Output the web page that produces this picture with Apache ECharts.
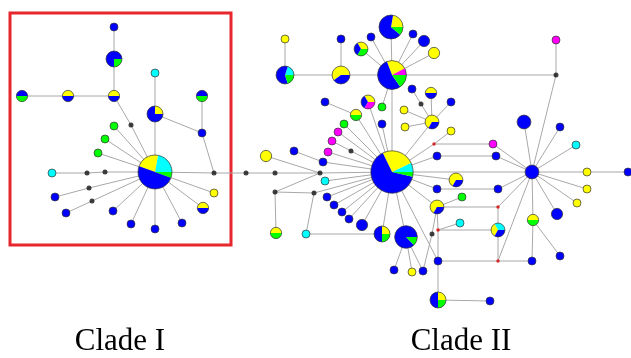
<!DOCTYPE html>
<html>
<head>
<meta charset="utf-8">
<script src="https://cdn.jsdelivr.net/npm/echarts@6/dist/echarts.min.js"></script>
<style>
  html, body { margin: 0; padding: 0; background: #fff; }
  #chart { width: 631px; height: 358px; }
</style>
</head>
<body>
<div id="chart"></div>
<script>
// population letters -> colours
const popColors = { B: '#0000ff', Y: '#ffff00', G: '#00ff00', C: '#00ffff', M: '#ff00ff' };

// haplotypes: [id, layoutX, layoutY, composition (population + sample count)]
const cladeOne = [
    ['c1', 155, 172, 'C4 Y4 B9 G1'],
    ['a1', 114, 27, 'B1'],
    ['a2', 114, 59, 'B3 G1'],
    ['a3', 114, 96, 'Y1 B1'],
    ['a4', 68, 96, 'Y1 B1'],
    ['a5', 22, 96, 'B1 G1'],
    ['a6', 155, 73, 'C1'],
    ['a7', 155, 114, 'Y1 B3'],
    ['a8', 202, 96, 'B1 G1'],
    ['a9', 202, 133, 'B1'],
    ['a10', 114, 126, 'G1'],
    ['a11', 105, 139, 'G1'],
    ['a12', 98, 153, 'G1'],
    ['a13', 52, 173, 'C1'],
    ['a14', 55, 197, 'B1'],
    ['a15', 66, 213, 'B1'],
    ['a16', 113, 211, 'B1'],
    ['a17', 131, 224, 'B1'],
    ['a18', 155, 229, 'B1'],
    ['a19', 182, 223, 'B1'],
    ['a20', 203, 208, 'Y1 B1'],
    ['a21', 214, 193, 'Y1'],
];

const cladeTwo = [
    ['c2', 392, 172, 'C2 Y7 B18 G1'],
    ['u', 392, 75, 'M1 Y3 B7 G2'],
    ['t', 391, 27, 'Y2 B6 G1'],
    ['b1', 285, 75, 'C1 B3 G1'],
    ['b2', 285, 39, 'Y1'],
    ['b3', 341, 75, 'Y3 B2'],
    ['b4', 341, 39, 'B1'],
    ['b5', 361, 49, 'Y1 B1 G1'],
    ['b6', 371, 37, 'B1'],
    ['b7', 413, 34, 'B1'],
    ['b8', 424, 41, 'B2'],
    ['b9', 434, 53, 'Y2'],
    ['b10', 382, 107, 'G1'],
    ['b11', 382, 124, 'B1'],
    ['b12', 404, 110, 'Y1'],
    ['b13', 325, 102, 'B1'],
    ['b14', 356, 115, 'Y1 G1'],
    ['b15', 368, 102, 'Y1 B1 M1'],
    ['b16', 344, 124, 'G1'],
    ['b17', 338, 132, 'M1'],
    ['b18', 332, 141, 'M1'],
    ['b19', 328, 152, 'M1'],
    ['b20', 294, 151, 'B1'],
    ['b21', 323, 162, 'B1'],
    ['b22', 266, 156, 'Y2'],
    ['b23', 325, 181, 'C1'],
    ['b24', 276, 233, 'Y1 G1'],
    ['b25', 306, 234, 'C1'],
    ['b26', 327, 197, 'B1'],
    ['b27', 334, 205, 'B1'],
    ['b28', 342, 212, 'B1'],
    ['b29', 349, 219, 'B1'],
    ['b30', 362, 225, 'B2'],
    ['b31', 382, 234, 'Y1 B2 G1'],
    ['b32', 406, 237, 'B7 G1'],
    ['b33', 394, 270, 'B1'],
    ['b34', 412, 272, 'Y1'],
    ['b35', 423, 271, 'B1'],
    ['b36', 437, 207, 'Y2 B1'],
    ['b37', 462, 197, 'G1'],
    ['b38', 460, 223, 'C1'],
    ['b39', 438, 261, 'B1'],
    ['b40', 438, 300, 'Y1 B2 G1'],
    ['b41', 490, 301, 'B1'],
    ['b42', 498, 230, 'C1 Y1 B1'],
    ['b43', 532, 261, 'B1'],
    ['b44', 533, 220, 'Y1 G1'],
    ['b45', 560, 256, 'B1'],
    ['h', 532, 172, 'B3'],
    ['b46', 524, 122, 'B3'],
    ['b47', 560, 127, 'B1'],
    ['b48', 576, 145, 'C1'],
    ['b49', 587, 172, 'Y1'],
    ['b50', 628, 172, 'B1'],
    ['b51', 587, 189, 'Y1'],
    ['b52', 577, 203, 'Y1'],
    ['b53', 557, 214, 'B2'],
    ['b54', 498, 189, 'B1'],
    ['b55', 437, 189, 'B1'],
    ['b56', 456, 180, 'Y2 B1'],
    ['b57', 437, 156, 'B1'],
    ['b58', 496, 156, 'B1'],
    ['b59', 493, 144, 'M1'],
    ['b60', 451, 131, 'Y1'],
    ['b61', 432, 122, 'Y2 B1'],
    ['b62', 405, 127, 'Y1'],
    ['b63', 431, 93, 'Y1 B1'],
    ['b64', 451, 102, 'B1'],
    ['b65', 412, 89, 'B1'],
    ['b66', 556, 40, 'M1'],
];

// inferred median vectors
const blackMedians = [
    ['m1', 131, 125], ['m2', 87, 173], ['m3', 105, 172], ['m4', 89, 188],
    ['m5', 92, 201], ['m6', 214, 173], ['m7', 246, 173], ['m8', 275, 173],
    ['m9', 320, 173], ['m10', 351, 151], ['m11', 275, 192], ['m12', 314, 193],
    ['m13', 432, 234], ['m14', 421, 104], ['m15', 556, 75],
];
const redMedians = [
    ['r1', 438, 230], ['r2', 498, 207], ['r3', 498, 261], ['r4', 434, 144],
];

const links = [
    // clade I
    ['c1', 'a10'], ['c1', 'a11'], ['c1', 'a12'], ['c1', 'm1'], ['m1', 'a3'],
    ['a3', 'a4'], ['a4', 'a5'], ['a3', 'a2'], ['a2', 'a1'], ['c1', 'a7'],
    ['a7', 'a6'], ['a7', 'a9'], ['a9', 'a8'], ['a9', 'm6'], ['c1', 'm6'],
    ['c1', 'm3'], ['m3', 'm2'], ['m2', 'a13'], ['c1', 'm4'], ['m4', 'a14'],
    ['c1', 'm5'], ['m5', 'a15'], ['c1', 'a16'], ['c1', 'a17'], ['c1', 'a18'],
    ['c1', 'a19'], ['c1', 'a20'], ['c1', 'a21'],
    // between clades
    ['m6', 'm7'], ['m7', 'm8'], ['m8', 'm9'], ['m9', 'c2'],
    // clade II
    ['m9', 'b22'], ['m9', 'm11'], ['m11', 'm12'], ['m11', 'b24'], ['m12', 'b25'],
    ['m12', 'c2'], ['b25', 'b31'], ['c2', 'b31'], ['c2', 'b32'], ['b32', 'b33'],
    ['b32', 'b34'], ['b32', 'b35'], ['b36', 'm13'], ['m13', 'b35'], ['c2', 'b36'],
    ['b36', 'b37'], ['b36', 'r1'], ['r1', 'b38'], ['r1', 'b42'], ['r1', 'b39'],
    ['b39', 'b40'], ['b40', 'b41'], ['c2', 'b39'], ['b36', 'r2'], ['r2', 'b42'],
    ['r2', 'h'], ['b42', 'r3'], ['r3', 'b39'], ['r3', 'b43'], ['r3', 'h'],
    ['h', 'b44'], ['b44', 'b43'], ['b44', 'b45'], ['h', 'b53'], ['h', 'b52'],
    ['h', 'b51'], ['h', 'b49'], ['b49', 'b50'], ['h', 'b54'], ['b54', 'b55'],
    ['h', 'b48'], ['h', 'b47'], ['h', 'b46'], ['h', 'm15'], ['m15', 'b66'],
    ['m15', 'u'], ['h', 'b58'], ['b58', 'b57'], ['h', 'b59'], ['b59', 'r4'],
    ['r4', 'b60'], ['r4', 'c2'], ['c2', 'b57'], ['c2', 'b55'], ['c2', 'b56'],
    ['c2', 'h'], ['c2', 'b61'], ['b61', 'b62'], ['b61', 'b12'], ['b61', 'b63'],
    ['b61', 'b64'], ['b61', 'm14'], ['m14', 'b65'], ['u', 'b10'], ['c2', 'b11'],
    ['c2', 'b14'], ['b14', 'b13'], ['c2', 'b15'], ['c2', 'b16'], ['c2', 'b17'],
    ['c2', 'm10'], ['m10', 'b18'], ['c2', 'b19'], ['b20', 'b21'], ['b21', 'c2'],
    ['c2', 'b23'], ['c2', 'b26'], ['c2', 'b27'], ['c2', 'b28'], ['c2', 'b29'],
    ['c2', 'b30'], ['c2', 'u'], ['u', 'b3'], ['b3', 'b1'], ['b1', 'b2'],
    ['b3', 'b4'], ['u', 't'], ['u', 'b5'], ['u', 'b6'], ['u', 'b7'],
    ['u', 'b8'], ['u', 'b9'],
];

const haps = cladeOne.concat(cladeTwo).map(([id, x, y, comp]) => {
    const parts = comp.split(' ').map(s => [s[0], Number(s.slice(1))]);
    const total = parts.reduce((s, p) => s + p[1], 0);
    return { id, x, y, parts, total };
});

const pos = {};
haps.forEach(h => { pos[h.id] = [h.x, h.y]; });
blackMedians.concat(redMedians).forEach(([id, x, y]) => { pos[id] = [x, y]; });

const chart = echarts.init(document.getElementById('chart'));

const option = {
    animation: false,
    grid: { left: 0, right: 0, top: 0, bottom: 0 },
    xAxis: { type: 'value', min: 0, max: 631, show: false },
    yAxis: { type: 'value', min: 0, max: 358, inverse: true, show: false },
    graphic: [
        {
            type: 'rect',
            shape: { x: 10, y: 13, width: 221, height: 232 },
            style: { fill: 'none', stroke: '#e8262d', lineWidth: 3 },
            z: 1
        },
        {
            type: 'text', x: 120, y: 342,
            style: { text: 'Clade I', fill: '#000', font: '31px "Liberation Serif"', align: 'center', verticalAlign: 'middle' }
        },
        {
            type: 'text', x: 461, y: 342,
            style: { text: 'Clade II', fill: '#000', font: '31px "Liberation Serif"', align: 'center', verticalAlign: 'middle' }
        }
    ],
    series: [
        {
            type: 'custom',
            name: 'links',
            z: 2,
            silent: true,
            data: links.map(([a, b]) => [pos[a][0], pos[a][1], pos[b][0], pos[b][1]]),
            encode: { x: [0, 2], y: [1, 3] },
            renderItem: (params, api) => {
                const p1 = api.coord([api.value(0), api.value(1)]);
                const p2 = api.coord([api.value(2), api.value(3)]);
                return {
                    type: 'line',
                    shape: { x1: p1[0], y1: p1[1], x2: p2[0], y2: p2[1] },
                    style: { stroke: '#a8a8a8', lineWidth: 1 }
                };
            }
        },
        {
            type: 'scatter',
            name: 'median',
            z: 3,
            symbolSize: 5,
            itemStyle: { color: '#111' },
            data: blackMedians.map(m => [m[1], m[2]])
        },
        {
            type: 'scatter',
            name: 'median (red)',
            z: 3,
            symbolSize: 3.5,
            itemStyle: { color: '#d40000' },
            data: redMedians.map(m => [m[1], m[2]])
        },
        {
            type: 'custom',
            name: 'haplotypes',
            z: 4,
            data: haps.map((h, i) => [h.x, h.y, h.total, i]),
            encode: { x: 0, y: 1 },
            renderItem: (params, api) => {
                const h = haps[api.value(3)];
                const c = api.coord([h.x, h.y]);
                const r = 4 * Math.sqrt(h.total);
                const children = [];
                if (h.parts.length === 1) {
                    children.push({ type: 'circle', shape: { cx: c[0], cy: c[1], r }, style: { fill: popColors[h.parts[0][0]] } });
                } else {
                    let a = 0;
                    h.parts.forEach(([p, n]) => {
                        const sweep = n / h.total * Math.PI * 2;
                        children.push({
                            type: 'sector',
                            shape: { cx: c[0], cy: c[1], r0: 0, r, startAngle: -a, endAngle: -(a + sweep), clockwise: false },
                            style: { fill: popColors[p] }
                        });
                        a += sweep;
                    });
                }
                children.push({ type: 'circle', shape: { cx: c[0], cy: c[1], r }, style: { fill: 'none', stroke: '#333', lineWidth: 0.7 } });
                return { type: 'group', children };
            }
        }
    ]
};

chart.setOption(option);
</script>
</body>
</html>
